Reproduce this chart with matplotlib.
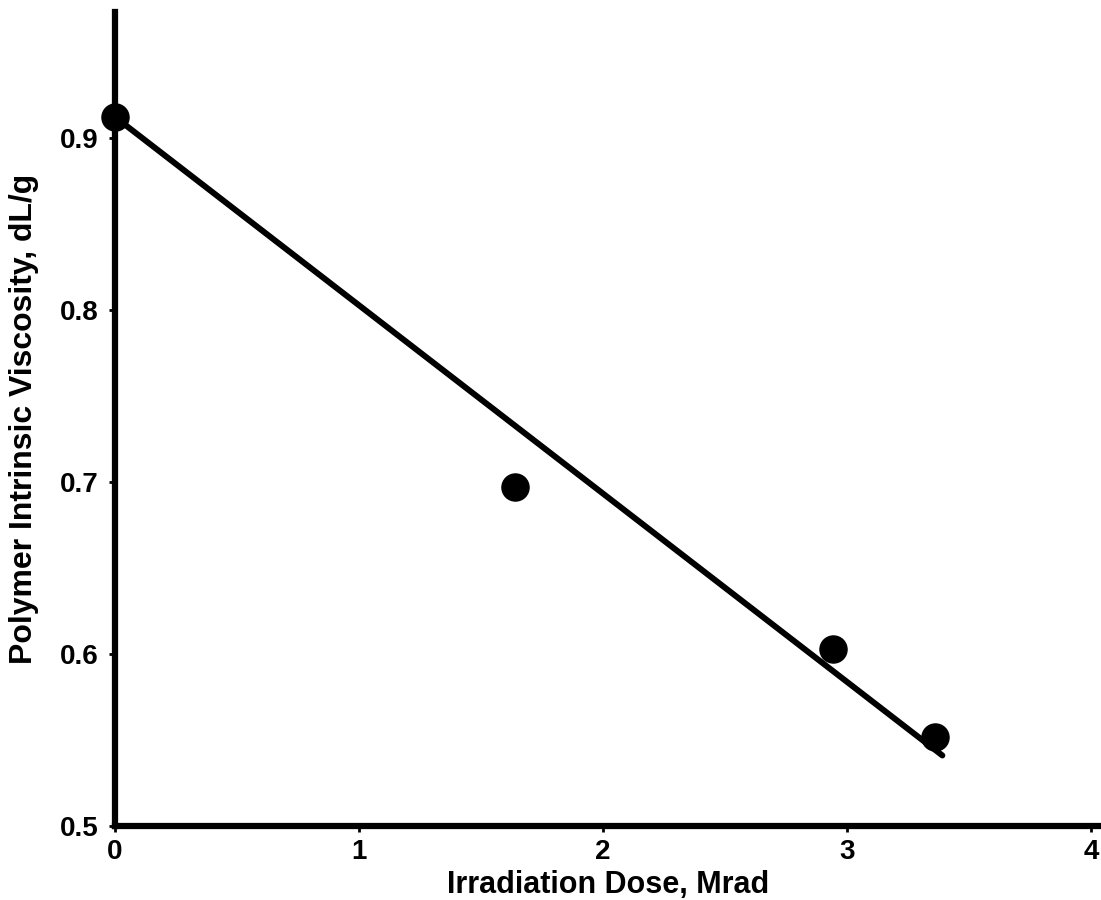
import matplotlib
matplotlib.use("Agg")
import matplotlib.pyplot as plt

# irradiation dose (Mrad) vs intrinsic viscosity (dL/g)
dose = [0.0, 1.64, 2.94, 3.36]
viscosity = [0.912, 0.697, 0.603, 0.552]

# least-squares line through the measurements
fit_dose = [0.0, 3.39]
fit_viscosity = [0.912, 0.541]

x_ticks = [0, 1, 2, 3, 4]
y_ticks = [0.5, 0.6, 0.7, 0.8, 0.9]

plt.rcParams['font.family'] = ['Liberation Sans', 'DejaVu Sans']
plt.rcParams['font.weight'] = 'bold'

fig = plt.figure(figsize=(11.01, 9.0), dpi=100)
ax = fig.add_axes([0.1045, 0.0822, 0.8955, 0.9044])

ax.plot(fit_dose, fit_viscosity, color='black', lw=4.3, solid_capstyle='round', zorder=2)
ax.plot(dose, viscosity, 'o', color='black', markersize=19.5, clip_on=False, zorder=3)

ax.set_xlim(0, 4.04)
ax.set_ylim(0.5, 0.973)

ax.set_xticks(x_ticks)
ax.set_xticklabels([str(t) for t in x_ticks])
ax.set_yticks(y_ticks)
ax.set_yticklabels([f"{t:.1f}" for t in y_ticks])

for side in ['top', 'right']:
    ax.spines[side].set_visible(False)
for side in ['left', 'bottom']:
    ax.spines[side].set_linewidth(4.5)
    ax.spines[side].set_capstyle('projecting')

ax.tick_params(axis='both', direction='out', length=4, width=2, labelsize=20)
ax.tick_params(axis='x', pad=5)
ax.tick_params(axis='y', pad=8)

ax.set_xlabel("Irradiation Dose, Mrad", fontsize=22, fontweight='bold', va='center')
ax.xaxis.set_label_coords(0.5, -0.073)
ax.set_ylabel("Polymer Intrinsic Viscosity, dL/g", fontsize=23, fontweight='bold', va='center')
ax.yaxis.set_label_coords(-0.092, 0.5)

fig.savefig("out.png", dpi=100)
plt.close(fig)
